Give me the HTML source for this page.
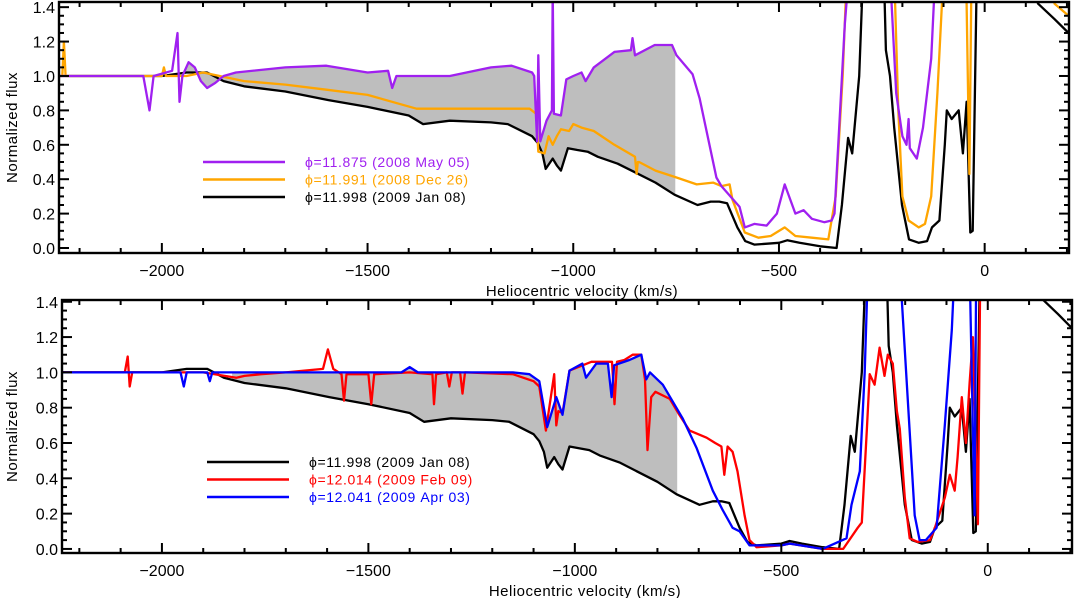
<!DOCTYPE html>
<html><head><meta charset="utf-8"><style>
html,body{margin:0;padding:0;background:#fff;}
svg{display:block;font-family:"Liberation Sans",sans-serif;}
</style></head><body>
<svg id="chart" width="1074" height="598" viewBox="0 0 1074 598" xmlns="http://www.w3.org/2000/svg"></svg>
<script>
// ---- data (velocity km/s, normalized flux) ----
const vBlack=[-2250,-2000,-1940,-1890,-1850,-1800,-1700,-1595,-1500,-1400,-1365,-1300,-1200,-1159,-1100,-1086,-1075,-1067,-1050,-1040,-1030,-1013,-990,-965,-940,-892,-850,-800,-754,-698,-666,-645,-626,-601,-582,-560,-500,-480,-450,-400,-360,-347,-332,-322,-305,-298,-290,-245,-240,-230,-220,-201,-184,-160,-140,-128,-110,-97,-92,-80,-63,-53,-44,-35,-29,-20,-10,100,130,170,204];
const fBlack=[1.0,1.0,1.02,1.02,0.97,0.94,0.91,0.86,0.82,0.77,0.72,0.74,0.73,0.72,0.65,0.61,0.55,0.46,0.52,0.48,0.45,0.58,0.57,0.56,0.53,0.49,0.44,0.38,0.31,0.25,0.27,0.27,0.26,0.12,0.04,0.02,0.03,0.045,0.03,0.01,0.0,0.25,0.64,0.55,1.0,1.45,1.6,1.6,1.15,1.0,0.7,0.25,0.05,0.03,0.04,0.12,0.16,0.6,0.8,0.75,0.8,0.55,0.85,0.09,0.1,1.45,1.6,1.6,1.42,1.33,1.25];
const vPurple=[-2250,-2045,-2030,-2020,-1975,-1962,-1957,-1950,-1935,-1920,-1905,-1890,-1870,-1850,-1820,-1700,-1600,-1500,-1450,-1440,-1430,-1300,-1200,-1150,-1100,-1095,-1088,-1085,-1080,-1065,-1052,-1050,-1047,-1030,-1017,-1000,-980,-970,-950,-900,-860,-856,-850,-802,-760,-749,-710,-693,-652,-640,-596,-583,-560,-530,-505,-486,-460,-440,-420,-390,-372,-365,-340,-330,-230,-215,-200,-190,-185,-182,-165,-150,-130,-120];
const fPurple=[1.0,1.0,0.8,1.0,1.03,1.25,0.85,1.0,1.08,1.05,0.97,0.93,0.96,1.0,1.02,1.05,1.06,1.02,1.03,0.93,1.0,1.0,1.05,1.06,1.02,1.0,0.62,1.12,0.62,0.74,0.8,1.5,0.78,0.77,0.98,1.0,1.02,0.97,1.05,1.14,1.15,1.22,1.12,1.18,1.18,1.12,1.01,0.87,0.41,0.36,0.24,0.12,0.14,0.13,0.2,0.37,0.2,0.22,0.17,0.15,0.16,0.2,1.3,1.6,1.6,0.9,0.65,0.6,0.75,0.58,0.52,0.7,1.1,1.6];
const vOrange=[-2250,-2242,-2238,-2234,-2000,-1995,-1990,-1940,-1900,-1800,-1700,-1600,-1500,-1381,-1300,-1150,-1106,-1090,-1085,-1070,-1060,-1050,-1040,-1030,-1010,-1000,-980,-950,-900,-850,-846,-843,-840,-800,-749,-700,-660,-640,-620,-613,-583,-550,-520,-486,-460,-420,-380,-362,-345,-335,-220,-210,-200,-185,-160,-145,-130,-115,-100,-45,-37,-32,150,170,204];
const fOrange=[1.0,1.0,1.2,1.0,1.0,1.05,1.0,1.0,1.02,0.97,0.95,0.92,0.89,0.81,0.81,0.81,0.81,0.78,0.56,0.55,0.65,0.6,0.65,0.69,0.68,0.72,0.7,0.68,0.6,0.53,0.43,0.5,0.5,0.45,0.41,0.37,0.38,0.36,0.37,0.28,0.09,0.06,0.07,0.12,0.07,0.06,0.05,0.3,1.0,1.6,1.6,0.8,0.3,0.16,0.12,0.14,0.3,0.9,1.6,1.6,0.43,1.6,1.6,1.42,1.35];
const vRed=[-2242,-2090,-2083,-2078,-2072,-1900,-1820,-1800,-1760,-1700,-1610,-1598,-1585,-1565,-1559,-1553,-1500,-1493,-1486,-1400,-1345,-1341,-1336,-1310,-1304,-1298,-1278,-1272,-1266,-1150,-1100,-1086,-1070,-1050,-1045,-1040,-1030,-1013,-960,-910,-904,-898,-880,-860,-839,-830,-824,-815,-805,-770,-747,-722,-681,-660,-645,-638,-630,-618,-606,-589,-577,-560,-500,-480,-400,-350,-315,-305,-293,-286,-274,-262,-250,-242,-230,-220,-213,-201,-189,-170,-140,-128,-104,-92,-80,-73,-63,-53,-44,-36,-24,-18];
const fRed=[1.0,1.0,1.09,0.92,1.0,1.0,0.97,0.98,0.99,1.0,1.02,1.13,1.02,0.99,0.84,0.99,0.99,0.82,0.99,1.0,0.99,0.82,0.99,1.0,0.92,1.0,1.0,0.88,1.0,0.99,0.95,0.92,0.67,0.99,0.7,0.78,0.77,1.01,1.06,1.06,0.82,1.06,1.07,1.1,1.1,0.96,0.56,0.86,0.89,0.85,0.76,0.67,0.63,0.6,0.58,0.42,0.58,0.55,0.44,0.19,0.05,0.01,0.02,0.03,0.0,0.0,0.12,0.15,0.67,0.99,0.93,1.14,0.98,1.1,1.05,0.78,0.68,0.29,0.06,0.04,0.05,0.12,0.29,0.42,0.33,0.52,0.86,0.6,0.94,1.2,0.14,1.6];
const vBlue=[-2242,-1955,-1947,-1940,-1890,-1884,-1878,-1600,-1420,-1400,-1380,-1150,-1110,-1086,-1067,-1045,-1030,-1013,-982,-973,-948,-920,-911,-905,-868,-839,-827,-818,-787,-739,-705,-666,-642,-618,-601,-577,-500,-480,-400,-342,-330,-310,-298,-290,-213,-177,-165,-150,-124,-104,-87,-80,-44,-32,-28];
const fBlue=[1.0,1.0,0.92,1.0,1.0,0.95,1.0,1.0,1.0,1.03,1.0,1.0,0.99,0.95,0.69,0.86,0.76,1.01,1.05,0.97,1.05,1.05,0.86,1.04,1.07,1.1,0.96,1.0,0.93,0.74,0.57,0.33,0.22,0.12,0.1,0.02,0.02,0.03,0.0,0.06,0.25,0.44,1.0,1.6,1.6,0.19,0.05,0.05,0.12,0.7,1.24,1.6,1.6,0.19,1.6];
const xTicks=[-2000,-1500,-1000,-500,0];
const yTicks=[0.0,0.2,0.4,0.6,0.8,1.0,1.2,1.4];
const legendTop=["ϕ=11.875 (2008 May 05)","ϕ=11.991 (2008 Dec 26)","ϕ=11.998 (2009 Jan 08)"];
const legendBottom=["ϕ=11.998 (2009 Jan 08)","ϕ=12.014 (2009 Feb 09)","ϕ=12.041 (2009 Apr 03)"];

const NS="http://www.w3.org/2000/svg";
const svg=document.getElementById('chart');
function mk(tag,attrs,parent){const e=document.createElementNS(NS,tag);for(const k in attrs)e.setAttribute(k,attrs[k]);(parent||svg).appendChild(e);return e;}

const panels=[
 {L:59,R:1069,T:2,B:253,v0:-2250,v1:205,f0:-0.029,f1:1.43,name:'top'},
 {L:62,R:1072,T:300,B:553,v0:-2242,v1:204,f0:-0.023,f1:1.41,name:'bottom'}
];
function sx(p,v){return p.L+(v-p.v0)/(p.v1-p.v0)*(p.R-p.L);}
function sy(p,f){return p.B-(f-p.f0)/(p.f1-p.f0)*(p.B-p.T);}
function pathD(p,vs,fs){return vs.map((v,i)=>(i?'L':'M')+sx(p,v).toFixed(1)+' '+sy(p,fs[i]).toFixed(1)).join(' ');}
function interp(vs,fs,v){for(let i=1;i<vs.length;i++){if(vs[i]>=v){const t=(v-vs[i-1])/((vs[i]-vs[i-1])||1);return fs[i-1]+t*(fs[i]-fs[i-1]);}}return fs[fs.length-1];}
function shade(p,g,vu,fu,vl,fl,a,b){
 const up=[],lo=[];
 const us=[a].concat(vu.filter(v=>v>a&&v<b)).concat([b]);
 const ls=[a].concat(vl.filter(v=>v>a&&v<b)).concat([b]);
 us.forEach(v=>up.push(sx(p,v).toFixed(1)+','+sy(p,interp(vu,fu,v)).toFixed(1)));
 ls.reverse().forEach(v=>lo.push(sx(p,v).toFixed(1)+','+sy(p,interp(vl,fl,v)).toFixed(1)));
 const e=mk('polygon',{points:up.concat(lo).join(' '),fill:'#bebebe'},g);
 
 
}
function series(p,g,vs,fs,color,name){
 const e=mk('path',{d:pathD(p,vs,fs),fill:'none',stroke:color,'stroke-width':2.3,'stroke-linejoin':'round'},g);
 
 
}
function axes(p){
 const g=mk('g',{});
 
 
 for(let v=-2200;v<=200;v+=100){
  const x=sx(p,v);const major=v%500===0;const len=major?10:5;
  mk('line',{x1:x,x2:x,y1:p.B,y2:p.B-len,stroke:'#000','stroke-width':2},g);
  mk('line',{x1:x,x2:x,y1:p.T,y2:p.T+len,stroke:'#000','stroke-width':2},g);
 }
 for(let i=0;i<=28;i++){
  const f=i*0.05;const y=sy(p,f);const major=i%4===0;const len=major?10:5;
  mk('line',{x1:p.L,x2:p.L+len,y1:y,y2:y,stroke:'#000','stroke-width':2},g);
  mk('line',{x1:p.R,x2:p.R-len,y1:y,y2:y,stroke:'#000','stroke-width':2},g);
 }
 mk('rect',{x:p.L,y:p.T,width:p.R-p.L,height:p.B-p.T,fill:'none',stroke:'#000','stroke-width':2.4},g);
 xTicks.forEach(v=>{
  const t=mk('text',{x:sx(p,v),y:p.B+23,'font-size':16,'text-anchor':'middle'},g);
  t.textContent=(v<0?'\u2212'+(-v):String(v));
  
  
 });
 yTicks.forEach(f=>{
  const t=mk('text',{x:p.L-4,y:sy(p,f)+6,'font-size':16,'text-anchor':'end'},g);
  t.textContent=f.toFixed(1);
  
  
 });
 const xl=mk('text',{x:(p.L+p.R)/2+18,y:p.B+43,'font-size':15,'text-anchor':'middle','letter-spacing':'0.5'},g);
 xl.textContent='Heliocentric velocity (km/s)';
 
 
 const cy=(p.T+p.B)/2;
 const yl=mk('text',{x:17,y:cy,'font-size':15,'text-anchor':'middle','letter-spacing':'0.5',transform:'rotate(-90 17 '+cy+')'},g);
 yl.textContent='Normalized flux';
 
 
}
function legend(p,labels,colors,x0,y0){
 const g=mk('g',{});
 
 
 labels.forEach((lab,i)=>{
  const y=y0+i*17.5;
  mk('line',{x1:x0,x2:x0+82,y1:y,y2:y,stroke:colors[i],'stroke-width':2.4},g);
  const t=mk('text',{x:x0+102,y:y+5,'font-size':14,'letter-spacing':'0.6',fill:colors[i]},g);
  t.textContent=lab;
  
  
 });
}
const defs=mk('defs',{});
panels.forEach(p=>{const c=mk('clipPath',{id:'clip-'+p.name},defs);mk('rect',{x:p.L,y:p.T,width:p.R-p.L,height:p.B-p.T},c);});

{
 const p=panels[0];
 const g=mk('g',{'clip-path':'url(#clip-top)'});
 
 
 shade(p,g,vPurple,fPurple,vBlack,fBlack,-1950,-752);
 series(p,g,vBlack,fBlack,'#000','series-2009-jan-08');
 series(p,g,vOrange,fOrange,'#ffa500','series-2008-dec-26');
 series(p,g,vPurple,fPurple,'#a020f0','series-2008-may-05');
 axes(p);
 legend(p,legendTop,['#a020f0','#ffa500','#000'],203,162);
}
{
 const p=panels[1];
 const g=mk('g',{'clip-path':'url(#clip-bottom)'});
 
 
 shade(p,g,vBlue,fBlue,vBlack,fBlack,-1830,-752);
 series(p,g,vBlack,fBlack,'#000','series-2009-jan-08');
 series(p,g,vRed,fRed,'#ff0000','series-2009-feb-09');
 series(p,g,vBlue,fBlue,'#0000ff','series-2009-apr-03');
 axes(p);
 legend(p,legendBottom,['#000','#ff0000','#0000ff'],207,462);
}
</script>
</body></html>
